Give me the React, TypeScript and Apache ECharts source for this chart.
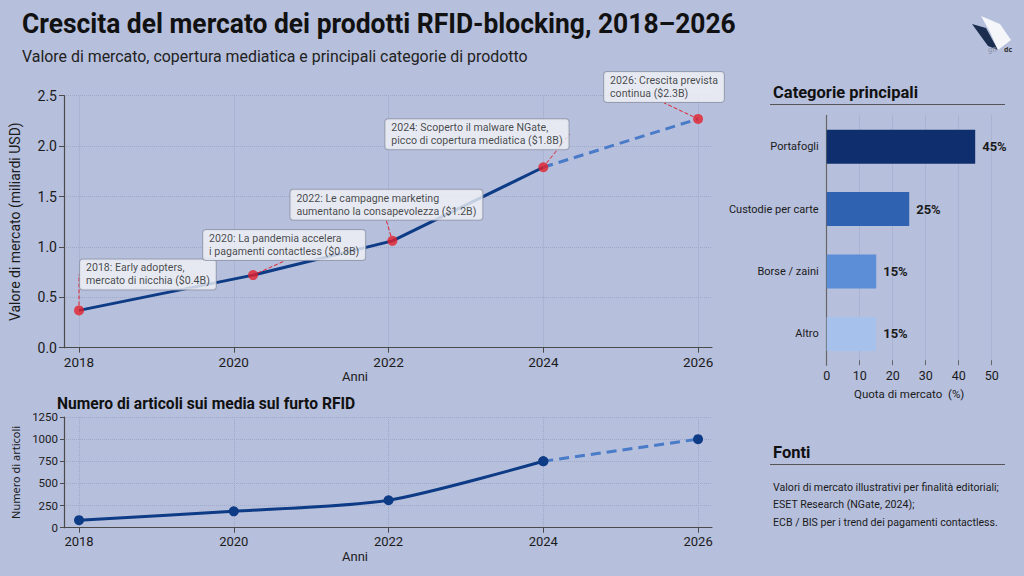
import React, { useEffect, useRef } from "react";
import * as echarts from "echarts";

// ---- data ----
const marketYears = [2018, 2020.25, 2022.05, 2024, 2026];
const marketValues = [0.37, 0.72, 1.06, 1.79, 2.27];
const marketNotes = [
  "2018: Early adopters,\nmercato di nicchia ($0.4B)",
  "2020: La pandemia accelera\ni pagamenti contactless ($0.8B)",
  "2022: Le campagne marketing\naumentano la consapevolezza ($1.2B)",
  "2024: Scoperto il malware NGate,\npicco di copertura mediatica ($1.8B)",
  "2026: Crescita prevista\ncontinua ($2.3B)",
];
const forecastFrom = 3; // 2024 onwards is a projection
const articleYears = [2018, 2020, 2022, 2024, 2026];
const articleCounts = [85, 185, 310, 750, 1000];
const yearTicks = [2018, 2020, 2022, 2024, 2026];
const categories = ["Portafogli", "Custodie per carte", "Borse / zaini", "Altro"];
const shares = [45, 25, 15, 15];
const sourceLines = [
  "Valori di mercato illustrativi per finalità editoriali;",
  "ESET Research (NGate, 2024);",
  "ECB / BIS per i trend dei pagamenti contactless.",
];

// ---- layout / style (not data) ----
// offset of each note box's top-left corner from its marker centre
const noteOffsets = [
  [1, -51],
  [-50, -45],
  [-102, -51],
  [-158, -48],
  [-94, -47],
];
const barColors = ["#0f2e6e", "#2f62b0", "#5b8ed6", "#a6c2ec"];
const BG = "#b6bfdc";
const NAVY = "#0d3b85";
const DASH = "#4a7bc9";
const RED = "#e3202b";
const AXIS = "#4a4a4a";
const GRIDC = "#9ea8c9";
const TXT = "#1b1b1b";
const FONT = 'Roboto, "Noto Sans", sans-serif';
const SANS = '"Noto Sans", "DejaVu Sans", sans-serif';

export default function App() {
  const ref = useRef<HTMLDivElement>(null);
  useEffect(() => {
    if (!ref.current) return;
    const chart = echarts.init(ref.current, null, { renderer: "svg" });

    const pairs = (xs: number[], ys: number[]) => xs.map((x, i) => [x, ys[i]]);
    const mPairs = pairs(marketYears, marketValues);
    const aPairs = pairs(articleYears, articleCounts);

    const xMin = 2017.806;
    const xMax = 2026.18;

    const yearAxis = (gridIndex: number, nameGap: number, fs: number) => ({
      type: "value",
      gridIndex,
      min: xMin,
      max: xMax,
      name: "Anni",
      nameLocation: "middle",
      nameGap,
      nameTextStyle: { fontFamily: FONT, fontSize: 13, color: TXT, padding: [0, 66, 0, 0] },
      axisLine: { show: true, lineStyle: { color: AXIS, width: 1.2 } },
      axisTick: { show: true, customValues: yearTicks, length: 5, lineStyle: { color: AXIS } },
      axisLabel: {
        customValues: yearTicks,
        formatter: (v: number) => String(Math.round(v)),
        fontFamily: FONT,
        fontSize: fs,
        color: TXT,
        margin: 7,
      },
      splitLine: { show: true, lineStyle: { color: GRIDC, type: "dotted", width: 1 } },
    });

    const option: any = {
      animation: false,
      backgroundColor: BG,
      textStyle: { fontFamily: FONT },
      grid: [
        { left: 64, top: 95.7, width: 648, height: 252 },
        { left: 64, top: 417, width: 648, height: 110.7 },
        { left: 826.7, top: 115.4, width: 165, height: 249.8 },
      ],
      xAxis: [
        yearAxis(0, 21, 13.5),
        yearAxis(1, 22, 13),
        {
          type: "value",
          gridIndex: 2,
          min: 0,
          max: 50,
          interval: 10,
          name: "Quota di mercato  (%)",
          nameLocation: "middle",
          nameGap: 23,
          nameTextStyle: { fontFamily: FONT, fontSize: 11.5, color: TXT },
          axisLine: { show: false },
          axisTick: { show: true, length: 5, inside: true, lineStyle: { color: "#666" } },
          axisLabel: { fontFamily: FONT, fontSize: 12.5, color: TXT, margin: 4 },
          splitLine: { show: true, lineStyle: { color: GRIDC, type: "dotted" } },
        },
      ],
      yAxis: [
        {
          type: "value",
          gridIndex: 0,
          min: 0,
          max: 2.5,
          interval: 0.5,
          name: "Valore di mercato (miliardi USD)",
          nameLocation: "middle",
          nameGap: 42,
          nameTextStyle: { fontFamily: FONT, fontSize: 14, color: TXT },
          axisLine: { show: true, lineStyle: { color: AXIS, width: 1.2 } },
          axisTick: { show: true, length: 5, lineStyle: { color: AXIS } },
          axisLabel: {
            formatter: (v: number) => v.toFixed(1),
            fontFamily: FONT,
            fontSize: 14,
            color: TXT,
            margin: 7,
          },
          splitLine: { show: true, lineStyle: { color: GRIDC, type: "dotted" } },
        },
        {
          type: "value",
          gridIndex: 1,
          min: 0,
          max: 1250,
          interval: 250,
          name: "Numero di articoli",
          nameLocation: "middle",
          nameGap: 43,
          nameTextStyle: { fontFamily: SANS, fontSize: 11, color: TXT },
          axisLine: { show: true, lineStyle: { color: AXIS, width: 1.2 } },
          axisTick: { show: true, length: 4, lineStyle: { color: AXIS } },
          axisLabel: {
            formatter: (v: number) => String(v),
            fontFamily: FONT,
            fontSize: 11.5,
            color: TXT,
            margin: 6,
          },
          splitLine: { show: true, lineStyle: { color: GRIDC, type: "dotted" } },
        },
        {
          type: "category",
          gridIndex: 2,
          data: categories,
          inverse: true,
          axisLine: { show: true, lineStyle: { color: "#666", width: 1.2 } },
          axisTick: { show: false },
          axisLabel: { fontFamily: FONT, fontSize: 11, color: TXT, margin: 8 },
        },
      ],
      series: [
        {
          type: "line",
          xAxisIndex: 0,
          yAxisIndex: 0,
          data: mPairs.slice(0, forecastFrom + 1),
          showSymbol: false,
          lineStyle: { color: NAVY, width: 3 },
          z: 2,
        },
        {
          type: "line",
          xAxisIndex: 0,
          yAxisIndex: 0,
          data: mPairs.slice(forecastFrom),
          showSymbol: false,
          lineStyle: { color: DASH, width: 3, type: [10, 6] },
          z: 2,
        },
        {
          type: "scatter",
          xAxisIndex: 0,
          yAxisIndex: 0,
          data: mPairs,
          symbolSize: 10,
          itemStyle: { color: RED },
          z: 5,
          label: {
            show: true,
            formatter: (p: any) => marketNotes[p.dataIndex],
            fontFamily: FONT,
            fontSize: 10.6,
            lineHeight: 13,
            color: TXT,
            backgroundColor: "#f3f4f8",
            borderColor: "#8f95a8",
            borderWidth: 1,
            borderRadius: 3,
            padding: [2, 6, 2, 6],
            align: "left",
          },
          labelLine: {
            show: true,
            lineStyle: { color: RED, type: "dashed", width: 1 },
          },
          labelLayout: (p: any) => {
            const cx = p.rect.x + p.rect.width / 2;
            const cy = p.rect.y + p.rect.height / 2;
            const o = noteOffsets[p.dataIndex];
            return { x: cx + o[0], y: cy + o[1], align: "left", verticalAlign: "top" };
          },
        },
        {
          type: "line",
          xAxisIndex: 1,
          yAxisIndex: 1,
          data: aPairs.slice(0, forecastFrom + 1),
          smooth: 0.25,
          symbol: "circle",
          symbolSize: 10,
          itemStyle: { color: NAVY },
          lineStyle: { color: NAVY, width: 3 },
          z: 3,
        },
        {
          type: "line",
          xAxisIndex: 1,
          yAxisIndex: 1,
          data: aPairs.slice(forecastFrom),
          symbol: "circle",
          symbolSize: 10,
          itemStyle: { color: NAVY },
          lineStyle: { color: DASH, width: 3, type: [10, 6] },
          z: 2,
        },
        {
          type: "bar",
          xAxisIndex: 2,
          yAxisIndex: 2,
          data: shares.map((v, i) => ({ value: v, itemStyle: { color: barColors[i] } })),
          barWidth: 34,
          label: {
            show: true,
            position: "right",
            distance: 7,
            formatter: (p: any) => p.value + "%",
            fontFamily: FONT,
            fontSize: 13,
            fontWeight: "bold",
            color: TXT,
          },
        },
      ],
      graphic: [
        {
          type: "text",
          x: 22,
          y: 24,
          scaleX: 0.943,
          style: {
            text: "Crescita del mercato dei prodotti RFID-blocking, 2018–2026",
            fontFamily: FONT,
            fontSize: 28,
            fontWeight: "bold",
            fill: "#111",
            textVerticalAlign: "middle",
          },
        },
        {
          type: "text",
          x: 22,
          y: 56,
          style: {
            text: "Valore di mercato, copertura mediatica e principali categorie di prodotto",
            fontFamily: FONT,
            fontSize: 15.9,
            fill: "#222",
            textVerticalAlign: "middle",
          },
        },
        {
          type: "text",
          x: 57,
          y: 403,
          scaleX: 0.92,
          style: {
            text: "Numero di articoli sui media sul furto RFID",
            fontFamily: FONT,
            fontSize: 17,
            fontWeight: "bold",
            fill: "#111",
            textVerticalAlign: "middle",
          },
        },
        {
          type: "text",
          x: 773,
          y: 92,
          style: {
            text: "Categorie principali",
            fontFamily: FONT,
            fontSize: 16.5,
            fontWeight: "bold",
            fill: "#111",
            textVerticalAlign: "middle",
          },
        },
        { type: "line", shape: { x1: 770, y1: 104.5, x2: 1005, y2: 104.5 }, style: { stroke: "#555", lineWidth: 1.2 } },
        {
          type: "text",
          x: 773,
          y: 452,
          style: {
            text: "Fonti",
            fontFamily: FONT,
            fontSize: 16.5,
            fontWeight: "bold",
            fill: "#111",
            textVerticalAlign: "middle",
          },
        },
        { type: "line", shape: { x1: 770, y1: 464.5, x2: 1005, y2: 464.5 }, style: { stroke: "#555", lineWidth: 1.2 } },
        ...sourceLines.map((t, i) => ({
          type: "text",
          x: 773,
          y: 487 + i * 17.5,
          style: {
            text: t,
            fontFamily: FONT,
            fontSize: 10.6,
            fill: "#1b1b1b",
            textVerticalAlign: "middle",
          },
        })),
        // logo
        {
          type: "polygon",
          shape: { points: [[972, 24], [986, 28], [998, 50], [988, 46]] },
          style: { fill: "#1c2e4f" },
        },
        {
          type: "polygon",
          shape: { points: [[981, 16], [1000, 24], [1011, 40], [998, 50], [990, 32]] },
          style: { fill: "#f5f6fa" },
        },
        {
          type: "text",
          x: 1004,
          y: 49,
          style: { text: "dc", fontFamily: SANS, fontSize: 7, fontWeight: "bold", fill: "#333", textVerticalAlign: "middle" },
        },
        {
          type: "text",
          x: 988,
          y: 49,
          style: { text: "gfl", fontFamily: SANS, fontSize: 7, fill: "#8a90a5", textVerticalAlign: "middle" },
        },
      ],
    };

    chart.setOption(option);
    return () => chart.dispose();
  }, []);

  return (
    <div
      ref={ref}
      style={{ position: "absolute", left: 0, top: 0, width: 1024, height: 576, background: BG }}
    />
  );
}
